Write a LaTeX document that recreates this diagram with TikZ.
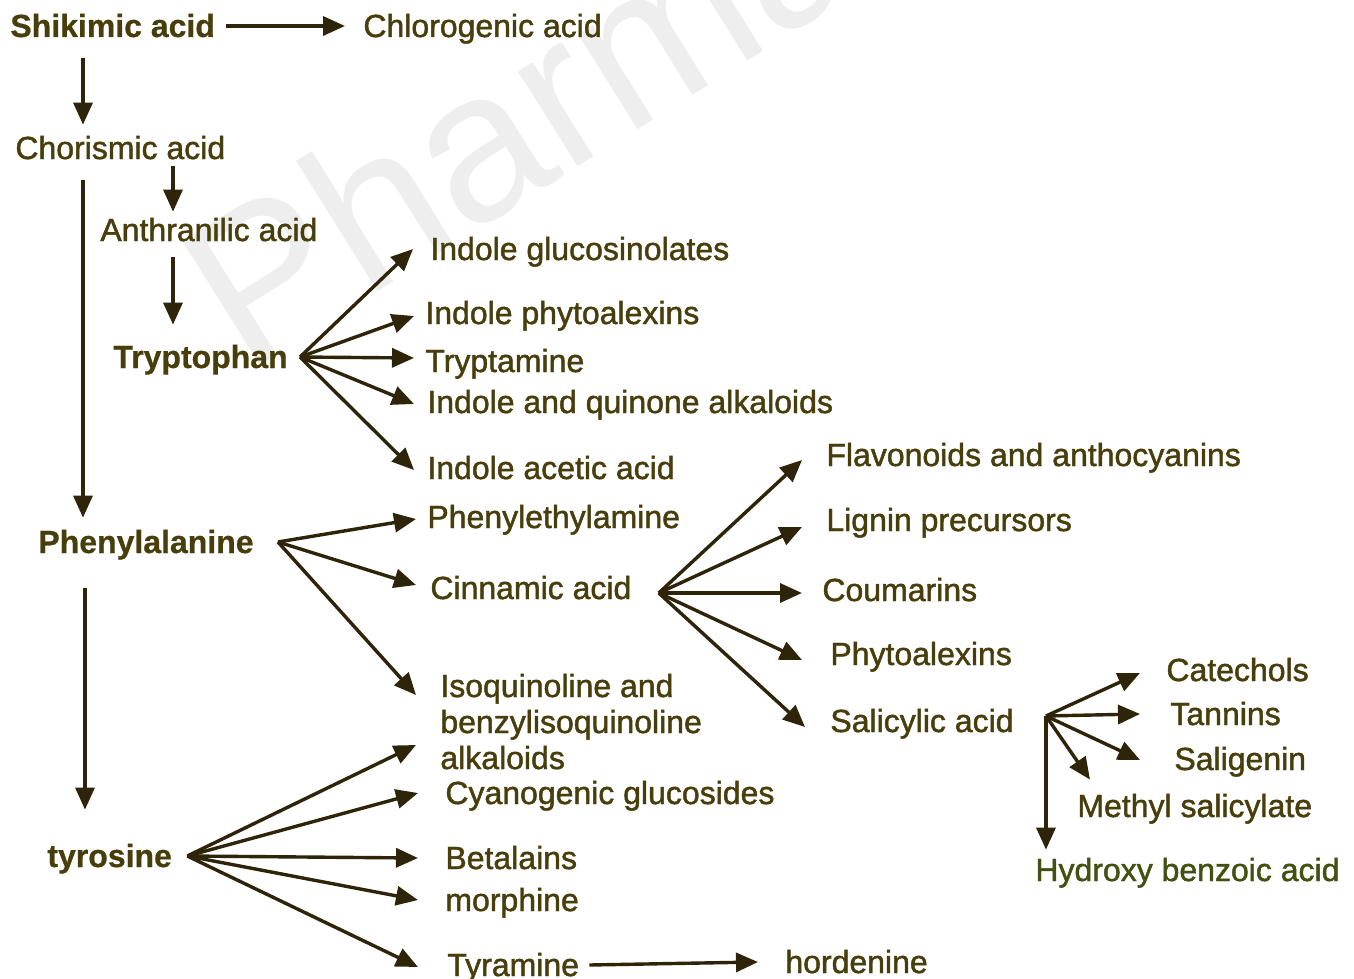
\documentclass[tikz,border=0pt]{standalone}
\usepackage{fontspec}
\setmainfont{Liberation Sans}
\newfontfamily\labfont[FakeBold=1.4]{Liberation Sans}
\newfontfamily\boldlab[FakeBold=0.6]{Liberation Sans Bold}
\usetikzlibrary{arrows.meta}
\definecolor{txt}{RGB}{72,62,12}
\definecolor{txtg}{RGB}{66,80,18}
\definecolor{arr}{RGB}{46,36,10}
\definecolor{wm}{RGB}{238,238,238}
\tikzset{
  lab/.style={anchor=base west, inner sep=0pt, text height=12pt, text depth=1pt,
    text=txt, font=\labfont\fontsize{16}{18}\selectfont},
  blab/.style={lab, font=\boldlab\fontsize{16}{18}\selectfont},
  arw/.style={draw=arr, line width=1.7pt,
    -{Triangle[length=11pt,width=9.5pt]}, fill=arr}
}
\begin{document}
\begin{tikzpicture}[x=0.5pt,y=-0.5pt]
\useasboundingbox (0,0) rectangle (1354,979);
\fill[white] (0,0) rectangle (1354,979);
% watermark
\begin{scope}
\clip (0,0) rectangle (1354,979);
\node[anchor=base west, rotate=32, text=wm, inner sep=0pt,
  font=\fontsize{106}{106}\selectfont] (wmark) at (245,375) {Pharmac};
\end{scope}
% nodes
\node[blab] (shik) at (10,37) {Shikimic acid};
\node[lab] (chlor) at (363,37) {Chlorogenic acid};
\node[lab] (chor) at (15,159) {Chorismic acid};
\node[lab] (anth) at (100,241) {Anthranilic acid};
\node[blab] (tryp) at (113,368) {Tryptophan};
\node[lab] (ig) at (430,260) {Indole glucosinolates};
\node[lab] (ip) at (425,324) {Indole phytoalexins};
\node[lab] (trya) at (425,372) {Tryptamine};
\node[lab] (iqa) at (427,413) {Indole and quinone alkaloids};
\node[lab] (iaa) at (427,479) {Indole acetic acid};
\node[blab] (phe) at (38,553) {Phenylalanine};
\node[lab] (peth) at (427,528) {Phenylethylamine};
\node[lab] (cinn) at (430,599) {Cinnamic acid};
\node[lab] (iso1) at (440,697) {Isoquinoline and};
\node[lab] (iso2) at (440,733) {benzylisoquinoline};
\node[lab] (iso3) at (440,769) {alkaloids};
\node[lab] (flav) at (826,466) {Flavonoids and anthocyanins};
\node[lab] (lign) at (826,531) {Lignin precursors};
\node[lab] (coum) at (822,601) {Coumarins};
\node[lab] (phyto) at (830,665) {Phytoalexins};
\node[lab] (sal) at (830,732) {Salicylic acid};
\node[lab] (cat) at (1166,681) {Catechols};
\node[lab] (tan) at (1170,725) {Tannins};
\node[lab] (salig) at (1174,770) {Saligenin};
\node[lab] (meth) at (1077,817) {Methyl salicylate};
\node[lab, text=txtg] (hydr) at (1035,881) {Hydroxy benzoic acid};
\node[blab] (tyr) at (47,867) {tyrosine};
\node[lab] (cyano) at (445,804) {Cyanogenic glucosides};
\node[lab] (beta) at (445,869) {Betalains};
\node[lab] (morph) at (445,911) {morphine};
\node[lab] (tyram) at (447,976) {Tyramine};
\node[lab] (hord) at (785,973) {hordenine};
% helper x positions and fan origins
\coordinate (xa) at (83,0);
\coordinate (xb) at (173,0);
\coordinate (xc) at (85,0);
\coordinate (tryO) at ([xshift=6pt]tryp.east);
\coordinate (pheO) at ([xshift=12pt]phe.east);
\coordinate (cinO) at ([xshift=13.5pt,yshift=-2.5pt]cinn.east);
\coordinate (salO) at ([xshift=16pt,yshift=2.5pt]sal.east);
\coordinate (tyrO) at ([xshift=7.5pt]tyr.east);
% main chain
\draw[arw] ([xshift=5.5pt]shik.east) -- ([xshift=-9pt]chlor.west);
\draw[arw] ([yshift=-9.5pt]shik.south -| xa) -- ([yshift=5pt]chor.north -| xa);
\draw[arw] ([yshift=-2.5pt]chor.south -| xb) -- ([yshift=2.5pt]anth.north -| xb);
\draw[arw] ([yshift=-7pt]anth.south -| xb) -- ([yshift=9.5pt]tryp.north -| xb);
\draw[arw] ([yshift=-9.5pt]chor.south -| xa) -- ([yshift=5.5pt]phe.north -| xa);
\draw[arw] ([yshift=-16.5pt]phe.south -| xc) -- ([yshift=16.5pt]tyr.north -| xc);
% tryptophan fan
\draw[arw] (tryO) -- ([xshift=-8.5pt]ig.west);
\draw[arw] (tryO) -- ([xshift=-5.5pt,yshift=-1.5pt]ip.west);
\draw[arw] (tryO) -- ([xshift=-5.5pt,yshift=1.5pt]trya.west);
\draw[arw] (tryO) -- ([xshift=-6.5pt,yshift=-1pt]iqa.west);
\draw[arw] (tryO) -- ([xshift=-6.5pt,yshift=-1pt]iaa.west);
% phenylalanine fan
\draw[arw] (pheO) -- ([xshift=-5.5pt,yshift=-1pt]peth.west);
\draw[arw] (pheO) -- ([xshift=-7pt,yshift=1.5pt]cinn.west);
\draw[arw] (pheO) -- ([xshift=-12pt,yshift=-4.5pt]iso1.west);
% cinnamic fan
\draw[arw] (cinO) -- ([xshift=-12pt,yshift=-2.5pt]flav.west);
\draw[arw] (cinO) -- ([xshift=-12pt,yshift=-3.5pt]lign.west);
\draw[arw] (cinO) -- ([xshift=-10pt,yshift=-1.5pt]coum.west);
\draw[arw] (cinO) -- ([xshift=-14pt,yshift=-3pt]phyto.west);
\draw[arw] (cinO) -- ([xshift=-12.5pt,yshift=-3pt]sal.west);
% salicylic fan
\draw[arw] (salO) -- ([xshift=-13pt,yshift=-1.5pt]cat.west);
\draw[arw] (salO) -- ([xshift=-15pt]tan.west);
\draw[arw] (salO) -- ([xshift=-17pt,yshift=-0.5pt]salig.west);
\draw[arw] (salO) -- ([xshift=6.5pt,yshift=6.5pt]meth.north west);
\draw[arw] (salO) -- ([yshift=3.5pt]hydr.north -| salO);
% tyrosine fan
\draw[arw] (tyrO) -- ([xshift=-12pt,yshift=6.5pt]iso3.west);
\draw[arw] (tyrO) -- ([xshift=-13.5pt]cyano.west);
\draw[arw] (tyrO) -- ([xshift=-13.5pt]beta.west);
\draw[arw] (tyrO) -- ([xshift=-13.5pt]morph.west);
\draw[arw] (tyrO) -- ([xshift=-14.5pt,yshift=-1pt]tyram.west);
\draw[arw] ([xshift=5pt]tyram.east) -- ([xshift=-13.5pt]hord.west);
\end{tikzpicture}
\end{document}
